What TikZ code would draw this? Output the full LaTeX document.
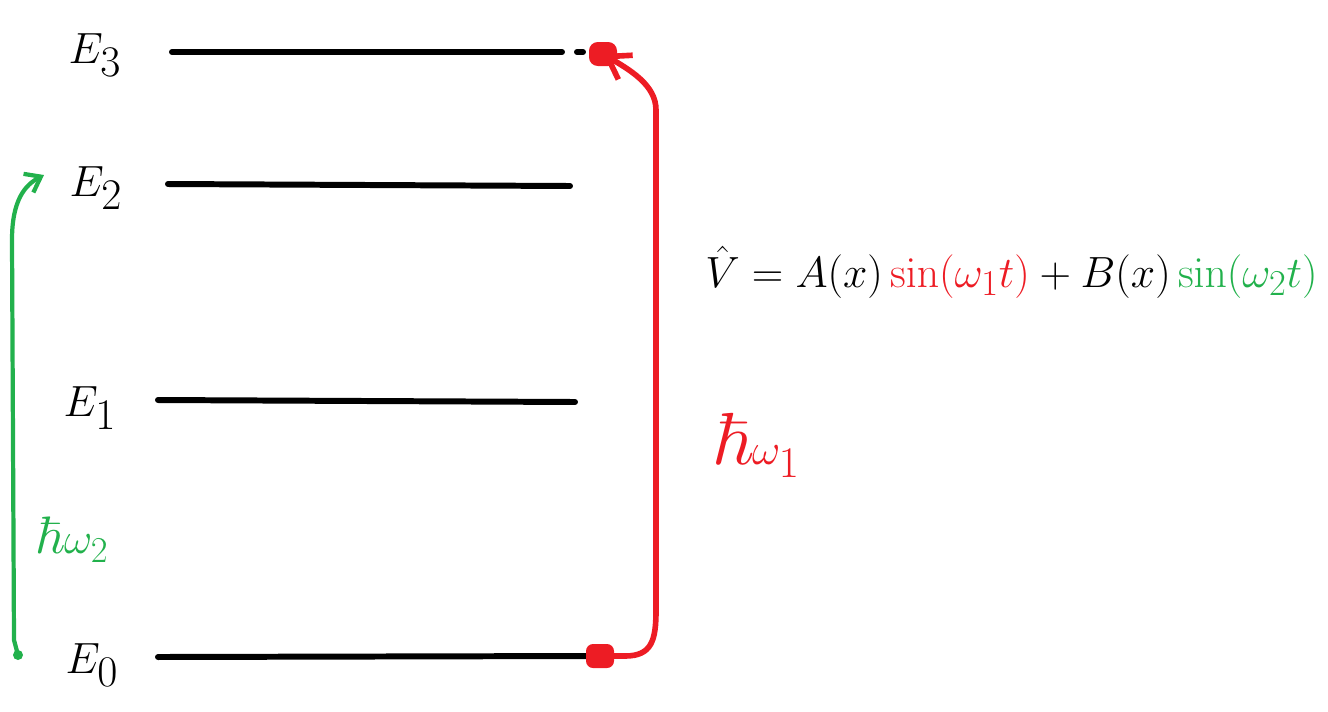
\documentclass[tikz,border=0pt]{standalone}
\usepackage{amsmath,amssymb}
\usepackage{tikz}
\usetikzlibrary{calc, arrows.meta}
\definecolor{rosso}{RGB}{237,28,36}
\definecolor{verde}{RGB}{34,177,76}
\tikzset{
  livello/.style={line width=3.4pt, line cap=round},
  etichetta/.style={font=\fontsize{44}{46}\selectfont, inner sep=0pt},
  transizione/.style={line width=3.2pt, line cap=round, line join=round}
}
\begin{document}
\begin{tikzpicture}[x=0.02cm, y=-0.02cm]
	\useasboundingbox (0,0) rectangle (1328,711);
	% Estremi dei livelli energetici
	\coordinate (L3a) at (172,52);  \coordinate (L3b) at (562,52);
	\coordinate (L2a) at (168,184); \coordinate (L2b) at (570,186);
	\coordinate (L1a) at (158,400); \coordinate (L1b) at (575,402);
	\coordinate (L0a) at (158,657); \coordinate (L0b) at (590,656);
	
	% Livelli
	\draw[livello] (L3a) -- (L3b);
	\draw[livello] (L2a) -- (L2b);
	\draw[livello] (L1a) -- (L1b);
	\draw[livello] (L0a) -- (L0b);
	\draw[livello] (577,52) -- (583,52);
	
	% Etichette dei livelli
	\node[etichetta] (E3) at (95,55) {$E_3$};
	\node[etichetta] (E2) at (96,188) {$E_2$};
	\node[etichetta] (E1) at (90,408) {$E_1$};
	\node[etichetta] (E0) at (92,665) {$E_0$};
	
	% Transizione rossa E0 -> E3
	\coordinate (R0) at (600,656);
	\coordinate (R3) at (603,54);
	\fill[rosso, rounded corners=4pt] ($(R0)+(-14,-12)$) rectangle ($(R0)+(14,12)$);
	\fill[rosso, rounded corners=5pt] ($(R3)+(-14,-12)$) rectangle ($(R3)+(14,12)$);
	\draw[transizione, rosso, -{Straight Barb[length=12pt, width=16pt]}]
		(R0) -- (625,656) .. controls (652,656) and (656,640) .. (656,610)
		-- (656,110) .. controls (656,85) and (630,70) .. (R3);
	\node[rosso, font=\fontsize{42}{44}\selectfont, inner sep=0pt] (hw1) at (756,446) {$\hbar\omega_1$};
	
	% Transizione verde E0 -> E2
	\coordinate (G0) at (18,655);
	\coordinate (G2) at (44,175);
	\fill[verde] (G0) circle (5);
	\draw[transizione, verde, line width=2.4pt, -{Straight Barb[length=8pt, width=12pt]}]
		(G0) -- (14,640) -- (12,240) .. controls (12,200) and (25,185) .. (G2);
	\node[verde, font=\fontsize{30}{32}\selectfont, inner sep=0pt] (hw2) at (72,540) {$\hbar\omega_2$};
	
	% Potenziale di perturbazione
	\node[font=\fontsize{30}{32}\selectfont, inner sep=0pt, anchor=west] (V) at (705,272)
		{$\hat{V} = A(x)\,\textcolor{rosso}{\sin(\omega_1 t)} + B(x)\,\textcolor{verde}{\sin(\omega_2 t)}$};
\end{tikzpicture}
\end{document}
